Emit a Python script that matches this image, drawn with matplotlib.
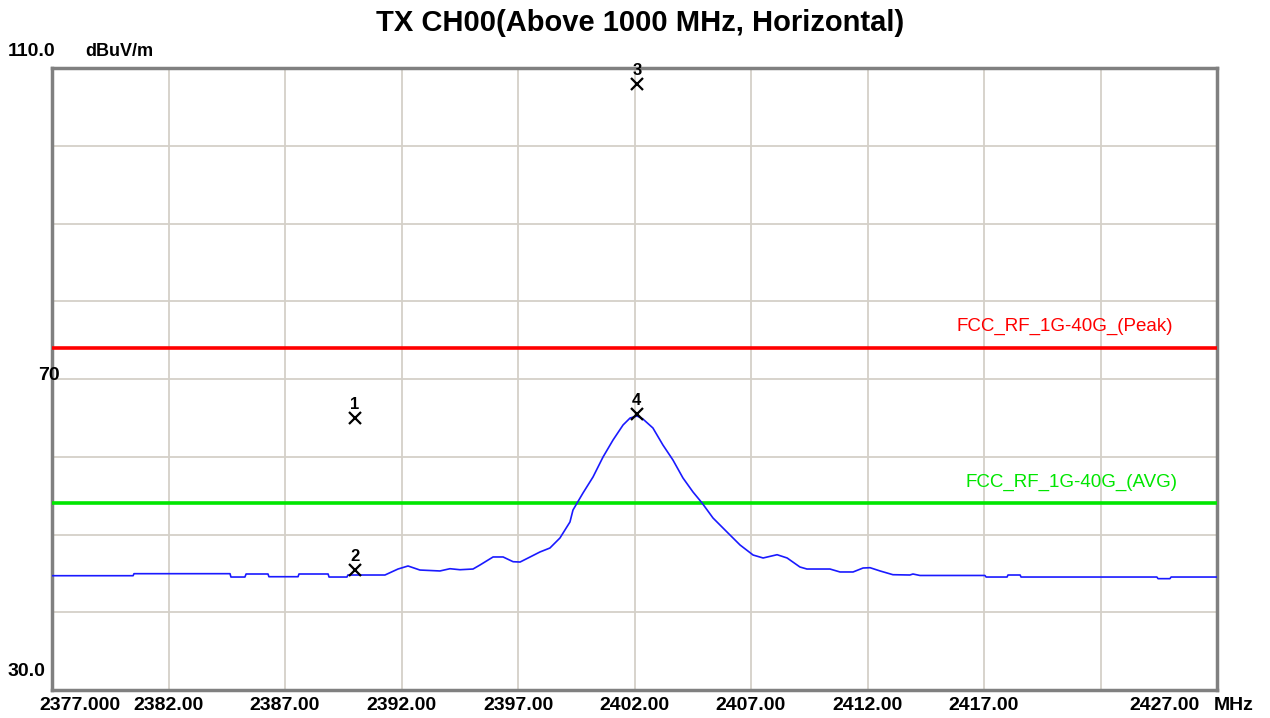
import matplotlib
matplotlib.use("Agg")
import matplotlib.pyplot as plt
from matplotlib import transforms

# ---------------- data ----------------
freq = [2377.00, 2380.48, 2380.52, 2384.64, 2384.68, 2385.28, 2385.33, 2386.27, 2386.31,
        2387.56, 2387.60, 2388.85, 2388.89, 2389.66, 2389.70, 2391.29, 2391.85, 2392.28,
        2392.79, 2393.65, 2394.08, 2394.51, 2395.07, 2395.37, 2395.93, 2396.36, 2396.79,
        2397.09, 2397.52, 2397.94, 2398.37, 2398.80, 2399.23, 2399.36, 2399.79, 2400.22,
        2400.65, 2401.08, 2401.51, 2401.81, 2402.11, 2402.36, 2402.79, 2403.22, 2403.65,
        2404.08, 2404.51, 2404.90, 2405.37, 2405.97, 2406.53, 2407.09, 2407.52, 2408.12,
        2408.55, 2409.10, 2409.40, 2410.39, 2410.82, 2411.38, 2411.81, 2412.11, 2412.54,
        2413.09, 2413.82, 2413.95, 2414.25, 2417.04, 2417.09, 2417.99, 2418.03, 2418.55,
        2418.59, 2424.42, 2424.47, 2424.98, 2425.03, 2427.00]
level = [44.70, 44.70, 44.96, 44.96, 44.53, 44.53, 44.92, 44.92, 44.57,
         44.57, 44.92, 44.92, 44.53, 44.53, 44.79, 44.79, 45.56, 45.95,
         45.43, 45.31, 45.60, 45.47, 45.56, 46.08, 47.11, 47.11, 46.50,
         46.46, 47.11, 47.75, 48.26, 49.55, 51.61, 53.15, 55.34, 57.40,
         59.97, 62.16, 64.09, 64.98, 65.24, 64.86, 63.70, 61.51, 59.58,
         57.27, 55.47, 54.05, 52.12, 50.32, 48.65, 47.36, 46.98, 47.40,
         46.98, 45.82, 45.56, 45.56, 45.18, 45.18, 45.69, 45.73, 45.31,
         44.83, 44.79, 44.92, 44.73, 44.73, 44.53, 44.53, 44.79, 44.79,
         44.53, 44.53, 44.32, 44.32, 44.53, 44.53]

limit_names = ["FCC_RF_1G-40G_(Peak)", "FCC_RF_1G-40G_(AVG)"]
limit_values = [74.0, 54.0]
limit_colors = ["#ff0000", "#00e600"]

marker_ids = ["1", "2", "3", "4"]
marker_freq = [2390.00, 2390.00, 2402.10, 2402.10]
marker_level = [65.0, 45.4, 107.9, 65.5]

xtick_labels = ["2377.000", "2382.00", "2387.00", "2392.00", "2397.00",
                "2402.00", "2407.00", "2412.00", "2417.00", "2427.00"]
xtick_pos = [2378.2, 2382, 2387, 2392, 2397, 2402, 2407, 2412, 2417, 2424.75]
ytick_labels = ["110.0", "70", "30.0"]
ytick_vals = [110, 70, 30]

FONT = "Liberation Sans"

# ---------------- figure ----------------
W, H = 1270, 718
fig = plt.figure(figsize=(W / 100, H / 100), dpi=100)
ax = fig.add_axes([52 / W, 1 - 690 / H, (1217 - 52) / W, (690 - 68) / H])
ax.set_xlim(2377, 2427)
ax.set_ylim(30, 110)

grid_c = "#d4d0c8"
for gx in range(2382, 2427, 5):
    ax.axvline(gx, color=grid_c, lw=1.3, zorder=1)
for gy in range(40, 110, 10):
    ax.axhline(gy, color=grid_c, lw=1.3, zorder=1)

ax.set_xticks([])
ax.set_yticks([])
for s in ax.spines.values():
    s.set_color("#808080")
    s.set_linewidth(2.5)

# limit lines
for name, val, col, dx in zip(limit_names, limit_values, limit_colors, [2425.1, 2425.3]):
    ax.axhline(val, color=col, lw=2.6, zorder=3)
    ax.text(dx, val + 1.6, name, color=col, ha="right", va="bottom",
            fontsize=13.5, family=FONT, zorder=4)

# trace
ax.plot(freq, level, color="#1a1aff", lw=1.2, zorder=5)

# markers
ax.plot(marker_freq, marker_level, linestyle="none", marker="x", color="black",
        markersize=8, markeredgewidth=1.6, zorder=6)
for mid, mf, ml in zip(marker_ids, marker_freq, marker_level):
    ax.annotate(mid, xy=(mf, ml), xytext=(0, 6), textcoords="offset pixels",
                ha="center", va="bottom", fontsize=12, fontweight="bold",
                family=FONT, zorder=7)

# x tick labels
xtr = transforms.blended_transform_factory(ax.transData, fig.transFigure)
for lab, pos in zip(xtick_labels, xtick_pos):
    ax.text(pos, 1 - 705 / H, lab, transform=xtr, ha="center", va="center",
            fontsize=14, fontweight="bold", family=FONT, clip_on=False)
ax.text(2427.7, 1 - 705 / H, "MHz", transform=xtr, ha="center", va="center",
        fontsize=14, fontweight="bold", family=FONT, clip_on=False)

# y tick labels
ypix = {110: 51, 70: 376, 30: 671}
for lab, val in zip(ytick_labels, ytick_vals):
    xs = 8 / W if lab != "70" else 38 / W
    fig.text(xs, 1 - ypix[val] / H, lab, ha="left", va="center",
             fontsize=14, fontweight="bold", family=FONT)
fig.text(85 / W, 1 - 51 / H, "dBuV/m", ha="left", va="center",
         fontsize=13, fontweight="bold", family=FONT)

fig.text(640 / W, 1 - 23 / H, "TX CH00(Above 1000 MHz, Horizontal)", ha="center",
         va="center", fontsize=21, fontweight="bold", family=FONT)

fig.savefig("out.png", dpi=100)
